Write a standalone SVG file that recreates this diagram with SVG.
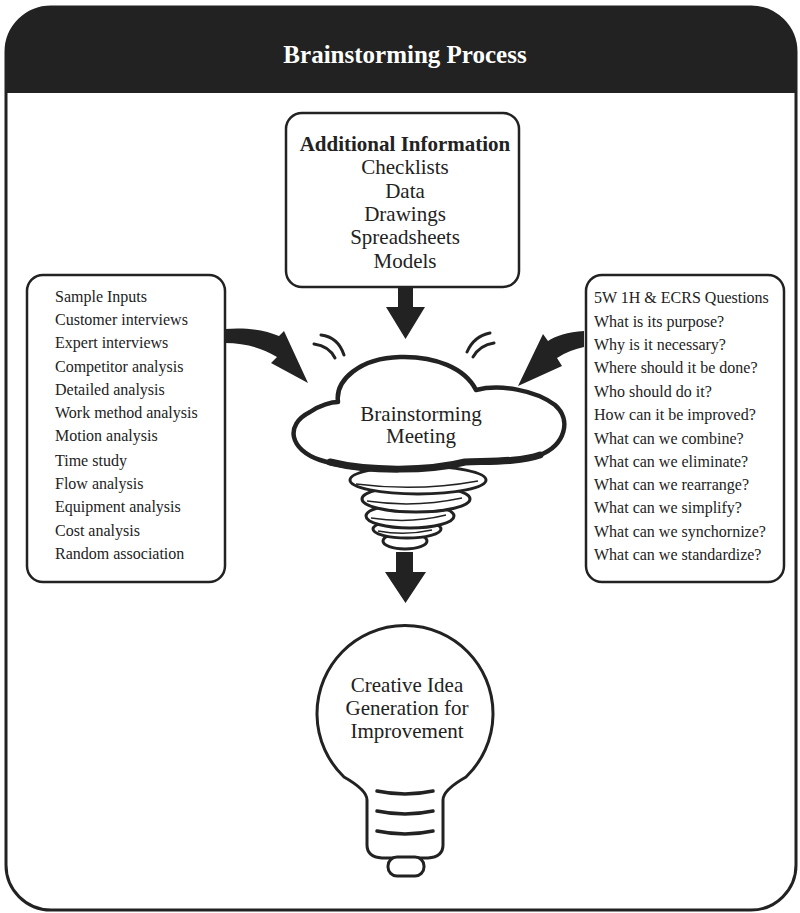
<svg xmlns="http://www.w3.org/2000/svg" width="800" height="913" viewBox="0 0 800 913">
  <style>
    .frame { fill: #ffffff; stroke: #222222; stroke-width: 3; }
    .box { fill: #ffffff; stroke: #222222; stroke-width: 2.5; }
    .title { font-family: "Liberation Serif", serif; font-weight: bold; font-size: 25px; fill: #ffffff; text-anchor: middle; }
    .big { font-family: "Liberation Serif", serif; font-size: 21px; fill: #222222; text-anchor: middle; }
    .bigb { font-family: "Liberation Serif", serif; font-size: 21px; font-weight: bold; fill: #222222; text-anchor: middle; }
    .list { font-family: "Liberation Serif", serif; font-size: 16px; fill: #222222; }
    .arrow { fill: #222222; stroke: none; }
    .cloud { fill: #ffffff; stroke: #222222; stroke-width: 4.5; stroke-linejoin: round; }
    .heavy { fill: none; stroke: #222222; stroke-width: 7; stroke-linecap: round; }
    .coil { fill: #ffffff; stroke: #222222; stroke-width: 3; }
    .inner { fill: none; stroke: #222222; stroke-width: 1.5; }
    .mark { fill: none; stroke: #222222; stroke-width: 3; stroke-linecap: round; }
    .bulb { fill: #ffffff; stroke: #222222; stroke-width: 3; }
    .thread { fill: none; stroke: #222222; stroke-width: 3.5; stroke-linecap: round; }
  </style>

  <!-- outer frame with dark header band -->
  <g id="header">
    <rect class="frame" x="6" y="7" width="790" height="903" rx="45" ry="45"/>
    <path d="M 6 93 L 6 54 A 47 47 0 0 1 53 7 L 749 7 A 47 47 0 0 1 796 54 L 796 93 Z" fill="#222222"/>
    <text class="title" x="405" y="63">Brainstorming Process</text>
  </g>

  <g id="additional-info">
    <rect class="box" x="286" y="113" width="233" height="174" rx="16" ry="16"/>
    <text class="bigb" x="405" y="151">Additional Information</text>
    <text class="big" x="405" y="174">Checklists</text>
    <text class="big" x="405" y="198">Data</text>
    <text class="big" x="405" y="221">Drawings</text>
    <text class="big" x="405" y="244">Spreadsheets</text>
    <text class="big" x="405" y="268">Models</text>
  </g>

  <g id="sample-inputs">
    <rect class="box" x="27" y="275" width="198" height="307" rx="16" ry="16"/>
    <text class="list" x="55" y="302">Sample Inputs</text>
    <text class="list" x="55" y="325">Customer interviews</text>
    <text class="list" x="55" y="348">Expert interviews</text>
    <text class="list" x="55" y="372">Competitor analysis</text>
    <text class="list" x="55" y="395">Detailed analysis</text>
    <text class="list" x="55" y="418">Work method analysis</text>
    <text class="list" x="55" y="441">Motion analysis</text>
    <text class="list" x="55" y="466">Time study</text>
    <text class="list" x="55" y="489">Flow analysis</text>
    <text class="list" x="55" y="512">Equipment analysis</text>
    <text class="list" x="55" y="536">Cost analysis</text>
    <text class="list" x="55" y="559">Random association</text>
  </g>

  <g id="questions">
    <rect class="box" x="586" y="275" width="198" height="307" rx="16" ry="16"/>
    <text class="list" x="594" y="303">5W 1H &amp; ECRS Questions</text>
    <text class="list" x="594" y="327">What is its purpose?</text>
    <text class="list" x="594" y="350">Why is it necessary?</text>
    <text class="list" x="594" y="373">Where should it be done?</text>
    <text class="list" x="594" y="397">Who should do it?</text>
    <text class="list" x="594" y="420">How can it be improved?</text>
    <text class="list" x="594" y="444">What can we combine?</text>
    <text class="list" x="594" y="467">What can we eliminate?</text>
    <text class="list" x="594" y="490">What can we rearrange?</text>
    <text class="list" x="594" y="513">What can we simplify?</text>
    <text class="list" x="594" y="537">What can we synchornize?</text>
    <text class="list" x="594" y="560">What can we standardize?</text>
  </g>

  <g id="meeting">
    <!-- tornado coils, lowest first so upper coils sit in front -->
    <ellipse class="coil" cx="405" cy="541" rx="22" ry="8"/>
    <ellipse class="coil" cx="407" cy="529" rx="34" ry="9"/>
    <path class="inner" d="M 378 531 Q 405 536 432 530"/>
    <ellipse class="coil" cx="410" cy="516" rx="44" ry="12"/>
    <path class="inner" d="M 371 518 Q 410 524 446 515"/>
    <ellipse class="coil" cx="416" cy="499" rx="54" ry="13"/>
    <path class="inner" d="M 367 501 Q 415 508 462 498"/>
    <ellipse class="coil" cx="418" cy="480" rx="68" ry="14"/>
    <path class="inner" d="M 356 484 Q 418 492 478 481"/>
    <!-- cloud -->
    <path class="cloud" d="M 338 402 C 335 380, 360 358, 400 357 C 435 356, 465 368, 476 390 C 500 384, 535 390, 555 405 C 572 420, 565 445, 540 455 C 520 462, 490 462, 465 462 C 430 472, 360 473, 320 460 C 290 450, 284 425, 310 412 C 320 405, 332 402, 338 402 Z"/>
    <path class="heavy" d="M 330 462 C 370 472, 430 471, 465 462 C 490 461, 520 462, 540 455"/>
    <!-- motion marks above the cloud -->
    <path class="mark" d="M 321 335 Q 338 337, 344 355"/>
    <path class="mark" d="M 314 344 Q 329 346, 335 358"/>
    <path class="mark" d="M 490 333 Q 474 336, 467 352"/>
    <path class="mark" d="M 494 343 Q 480 345, 473 357"/>
    <text class="big" x="421" y="421">Brainstorming</text>
    <text class="big" x="421" y="443">Meeting</text>
  </g>

  <g id="idea-bulb">
    <path class="bulb" d="M 367 845 L 367 800 Q 367 790 344 777 A 88 88 0 1 1 466 777 Q 443 790 443 800 L 443 845 Q 443 857 428 858 L 382 858 Q 367 857 367 845 Z"/>
    <path class="thread" d="M 377 791 Q 405 797 433 791"/>
    <path class="thread" d="M 377 811 Q 405 817 433 811"/>
    <path class="thread" d="M 377 831 Q 405 837 433 831"/>
    <rect class="bulb" x="388" y="857" width="36" height="19" rx="9" ry="9"/>
    <text class="big" x="407" y="692">Creative Idea</text>
    <text class="big" x="407" y="715">Generation for</text>
    <text class="big" x="407" y="738">Improvement</text>
  </g>

  <g id="connectors">
    <polygon class="arrow" points="398,287 413,287 413,307 425,307 405.5,339 386,307 398,307"/>
    <path class="arrow" d="M 225 329 C 245 327, 265 330, 279 336 L 284 331 L 308 383 L 271 363 L 277 357 C 262 348, 245 343, 225 343 Z"/>
    <path class="arrow" d="M 584 331 C 568 332, 555 336, 548 341 L 543 334 L 518 386 L 562 366 L 557 358 C 566 352, 575 349, 584 347 Z"/>
    <polygon class="arrow" points="396,552 413,552 413,572 426,572 405.5,603 385,572 396,572"/>
  </g>
</svg>
